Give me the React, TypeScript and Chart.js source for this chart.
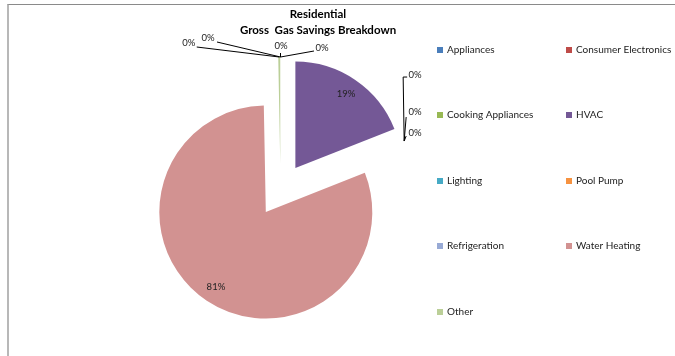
import React, { useEffect, useRef } from "react";
import { Chart, registerables } from "chart.js";

Chart.register(...registerables);

const categories = [
  "Appliances",
  "Consumer Electronics",
  "Cooking Appliances",
  "HVAC",
  "Lighting",
  "Pool Pump",
  "Refrigeration",
  "Water Heating",
  "Other",
];
const savingsShare = [0, 0, 0, 19.0, 0, 0, 0, 80.7, 0.3];
const sliceColors = [
  "#4A7EBB",
  "#BE4B48",
  "#98B954",
  "#745896",
  "#46AAC5",
  "#F69240",
  "#98AAD5",
  "#D29291",
  "#BBCF98",
];
const titleLines = ["Residential", "Gross  Gas Savings Breakdown"];

// label placement (text center / leader end relative to slice edge anchor)
const labelShift: ([number, number] | null)[] = [
  [41.5, -9],
  [0.5, -11],
  [-72.5, -19],
  null,
  [11, -66],
  [11, -29],
  [11, -8],
  null,
  [-90.5, -14],
];
const leaderPath: ([number, number][] | null)[] = [
  [[33.5, -6]],
  [[0, -4]],
  [[-63.5, -15]],
  null,
  [[-1, -64], [3, -64]],
  [[2, -24]],
  [[2, -5]],
  null,
  [[-82.5, -10]],
];

const EXPLODE = 26.5;
const RADIUS = 106.5;
const FONT = "Lato, 'Liberation Sans', sans-serif";

const explodePlugin = {
  id: "explode",
  beforeDatasetDraw(chart: any, args: any) {
    const ctx = chart.ctx as CanvasRenderingContext2D;
    const meta = args.meta;
    meta.data.forEach((arc: any) => {
      const p = arc.getProps(["startAngle", "endAngle", "circumference"], true);
      if (!(p.circumference > 0)) return;
      const mid = (p.startAngle + p.endAngle) / 2;
      ctx.save();
      ctx.translate(Math.cos(mid) * EXPLODE, Math.sin(mid) * EXPLODE);
      arc.draw(ctx);
      ctx.restore();
    });
    return false;
  },
};

const overlayPlugin = {
  id: "overlay",
  afterDraw(chart: any) {
    const ctx = chart.ctx as CanvasRenderingContext2D;
    const meta = chart.getDatasetMeta(0);
    const values: number[] = chart.data.datasets[0].data;
    const total = values.reduce((a: number, b: number) => a + b, 0);
    ctx.save();
    // title
    ctx.fillStyle = "#000";
    ctx.textAlign = "center";
    ctx.textBaseline = "middle";
    ctx.font = `bold 11.5px ${FONT}`;
    ctx.fillText(titleLines[0], 318, 14);
    ctx.fillText(titleLines[1], 318, 30);

    // data labels
    ctx.font = `9.5px ${FONT}`;
    meta.data.forEach((arc: any, i: number) => {
      const p = arc.getProps(["x", "y", "startAngle", "endAngle", "outerRadius"], true);
      const mid = (p.startAngle + p.endAngle) / 2;
      const pct = Math.round((values[i] / total) * 100) + "%";
      const shift = labelShift[i];
      if (!shift) {
        const d = EXPLODE + p.outerRadius * 0.845;
        ctx.fillStyle = "#222";
        ctx.fillText(pct, p.x + Math.cos(mid) * d, p.y + Math.sin(mid) * d);
        return;
      }
      const d = EXPLODE + p.outerRadius;
      const ax = p.x + Math.cos(mid) * d;
      const ay = p.y + Math.sin(mid) * d;
      const path = leaderPath[i];
      if (path) {
        ctx.strokeStyle = "#000";
        ctx.lineWidth = 1;
        ctx.beginPath();
        ctx.moveTo(ax, ay);
        path.forEach(([dx, dy]) => ctx.lineTo(ax + dx, ay + dy));
        ctx.stroke();
      }
      ctx.fillStyle = "#222";
      ctx.fillText(pct, ax + shift[0], ay + shift[1]);
    });

    // legend
    const colX = [437, 566];
    const rowY = [50, 115, 181, 246, 312];
    ctx.textAlign = "left";
    ctx.font = `10px ${FONT}`;
    categories.forEach((name, i) => {
      const x = colX[i % 2];
      const y = rowY[Math.floor(i / 2)];
      ctx.fillStyle = sliceColors[i];
      ctx.fillRect(x, y - 3, 6, 6);
      ctx.fillStyle = "#222";
      ctx.fillText(name, x + 10, y);
    });
    ctx.restore();
  },
};

export default function App() {
  const ref = useRef<HTMLCanvasElement>(null);
  useEffect(() => {
    if (!ref.current) return;
    const chart = new Chart(ref.current, {
      type: "pie",
      data: {
        labels: categories,
        datasets: [
          {
            data: savingsShare,
            backgroundColor: sliceColors,
            borderWidth: 0,
            offset: 0,
            radius: RADIUS,
          } as any,
        ],
      },
      options: {
        responsive: false,
        animation: false,
        radius: RADIUS,
        layout: { padding: { left: 174, right: 288, top: 83.5, bottom: 59.5 } },
        plugins: {
          legend: { display: false },
          title: { display: false },
          tooltip: { enabled: false },
        },
      } as any,
      plugins: [explodePlugin, overlayPlugin],
    });
    return () => chart.destroy();
  }, []);
  return (
    <div
      style={{
        position: "fixed",
        left: 0,
        top: 0,
        width: 675,
        height: 356,
        background: "#fff",
        overflow: "hidden",
      }}
    >
      <div
        style={{
          position: "absolute",
          left: 7,
          top: 4,
          width: 700,
          height: 400,
          borderTop: "1px solid #8a8a8a",
          borderLeft: "2px solid #b8b8b8",
        }}
      />
      <canvas ref={ref} width={675} height={356} style={{ position: "absolute", left: 0, top: 0 }} />
    </div>
  );
}
